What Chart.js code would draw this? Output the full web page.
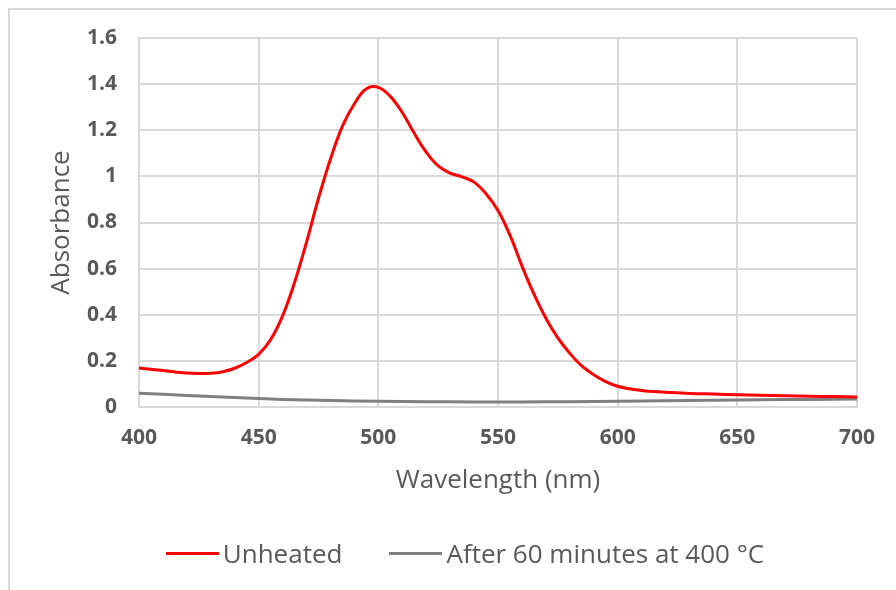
<!DOCTYPE html>
<html>
<head>
<meta charset="utf-8">
<script src="https://cdn.jsdelivr.net/npm/chart.js@4"></script>
<style>
  html, body { margin: 0; padding: 0; background: #fff; overflow: hidden; }
  body { width: 896px; height: 590px; position: relative; }
  #frame {
    position: absolute; left: 8px; top: 8px; width: 1000px; height: 700px;
    border-top: 2px solid #d9d9d9; border-left: 2px solid #d9d9d9; box-sizing: border-box;
  }
  #wrap { position: absolute; left: 0; top: 0; width: 896px; height: 590px; }
  #legend {
    position: absolute; left: 8px; width: 914px; top: 536px; height: 34px;
    display: flex; justify-content: center; align-items: center;
    font-family: "Open Sans", sans-serif; font-size: 26px; color: #595959;
  }
  .item { display: flex; align-items: center; }
  .item + .item { margin-left: 47px; }
  .swatch { width: 53px; height: 3px; margin-right: 4px; }
</style>
</head>
<body>
<div id="frame"></div>
<div id="wrap"><canvas id="chart" width="896" height="590"></canvas></div>
<div id="legend"></div>
<script>
// Absorbance spectra, wavelength in nm
const redWavelengths = [400,405,410,415,420,425,430,435,440,445,
                        450,455,460,465,470,475,480,485,490,495,
                        500,505,510,515,520,525,530,535,540,545,550,555,560,565,570,575,580,585,590,595,600,605,610,615,620,
                        630,640,650,660,670,680,690,700];
const unheated = [0.169,0.164,0.158,0.152,0.147,0.145,0.146,0.153,0.168,0.193,
                  0.228,0.292,0.395,0.54,0.715,0.905,1.075,1.218,1.315,1.38,
                  1.386,1.347,1.277,1.187,1.105,1.045,1.014,0.998,0.975,0.925,0.852,0.745,0.612,0.49,0.385,0.30,0.233,0.178,0.14,0.11,0.09,0.079,0.072,0.067,0.064,
                  0.059,0.056,0.053,0.051,0.049,0.047,0.045,0.043];

const grayWavelengths = [400,420,440,460,480,500,520,540,560,580,600,620,640,660,680,700];
const heated = [0.060,0.050,0.041,0.033,0.028,0.025,0.023,0.022,0.022,0.023,0.025,0.027,0.029,0.031,0.033,0.035];

const seriesNames = ['Unheated', 'After 60 minutes at 400 °C'];
const seriesColors = ['#ff0000', '#7f7f7f'];

const xTickValues = [400,450,500,550,600,650,700];
const xTickLabels = ['400','450','500','550','600','650','700'];
const yTickValues = [0,0.2,0.4,0.6,0.8,1,1.2,1.4,1.6];
const yTickLabels = ['0','0.2','0.4','0.6','0.8','1','1.2','1.4','1.6'];

const textColor = '#595959';
const gridColor = '#d9d9d9';
const fontFamily = '"Open Sans", sans-serif';

const toPoints = (xs, ys) => xs.map((x, i) => ({x, y: ys[i]}));

const chart = new Chart(document.getElementById('chart'), {
  type: 'line',
  data: {
    datasets: [
      { label: seriesNames[0], data: toPoints(redWavelengths, unheated),
        borderColor: seriesColors[0], backgroundColor: seriesColors[0] },
      { label: seriesNames[1], data: toPoints(grayWavelengths, heated),
        borderColor: seriesColors[1], backgroundColor: seriesColors[1] }
    ]
  },
  options: {
    responsive: false,
    animation: false,
    events: [],
    layout: { padding: { left: 0, top: 38, right: 39, bottom: 94 } },
    elements: {
      point: { radius: 0 },
      line: { borderWidth: 3, tension: 0.4, borderCapStyle: 'round', borderJoinStyle: 'round' }
    },
    plugins: { legend: { display: false }, tooltip: { enabled: false } },
    scales: {
      x: {
        type: 'linear', min: 400, max: 700,
        afterBuildTicks: s => { s.ticks = xTickValues.map(v => ({value: v})); },
        afterFit: s => { s.height = 89; },
        ticks: {
          padding: 18, color: textColor,
          font: { family: fontFamily, size: 21, weight: 'bold' },
          callback: (v, i) => xTickLabels[i]
        },
        grid: { color: gridColor, lineWidth: 2, drawTicks: false },
        border: { color: gridColor, width: 2 },
        title: {
          display: true, text: 'Wavelength (nm)', color: textColor,
          font: { family: fontFamily, size: 26, weight: 'normal' },
          padding: { top: 0, bottom: 0 }
        }
      },
      y: {
        type: 'linear', min: 0, max: 1.6,
        afterBuildTicks: s => { s.ticks = yTickValues.map(v => ({value: v})); },
        afterFit: s => { s.width = 139; },
        ticks: {
          padding: 22, color: textColor,
          font: { family: fontFamily, size: 21, weight: 'bold' },
          callback: (v, i) => yTickLabels[i]
        },
        grid: { color: gridColor, lineWidth: 2, drawTicks: false },
        border: { color: gridColor, width: 2 },
        title: {
          display: true, text: 'Absorbance', color: textColor,
          font: { family: fontFamily, size: 26, weight: 'normal' },
          padding: { top: 46, bottom: 0 }
        }
      }
    }
  }
});

// Legend built from the chart's datasets
const legend = document.getElementById('legend');
chart.data.datasets.forEach(ds => {
  const item = document.createElement('div');
  item.className = 'item';
  const sw = document.createElement('span');
  sw.className = 'swatch';
  sw.style.background = ds.borderColor;
  const label = document.createElement('span');
  label.textContent = ds.label;
  item.appendChild(sw);
  item.appendChild(label);
  legend.appendChild(item);
});
</script>
</body>
</html>
